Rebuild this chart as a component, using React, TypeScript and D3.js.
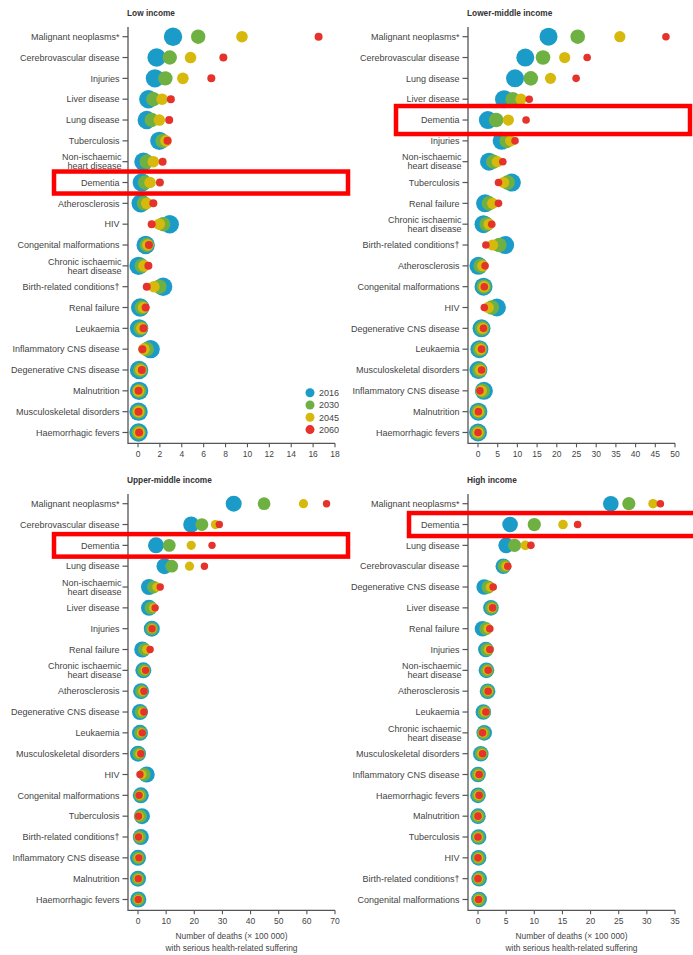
import React, { useRef, useEffect } from 'react';
import * as d3 from 'd3';

const YEARS = ['2016', '2030', '2045', '2060'];
const COLORS = ['#1b9cc8', '#6fb043', '#d6b90c', '#e5322a'];

// Low income
const LOW_CATS = ['Malignant neoplasms*', 'Cerebrovascular disease', 'Injuries', 'Liver disease', 'Lung disease', 'Tuberculosis', 'Non-ischaemic\nheart disease', 'Dementia', 'Atherosclerosis', 'HIV', 'Congenital malformations', 'Chronic ischaemic\nheart disease', 'Birth-related conditions†', 'Renal failure', 'Leukaemia', 'Inflammatory CNS disease', 'Degenerative CNS disease', 'Malnutrition', 'Musculoskeletal disorders', 'Haemorrhagic fevers'];
const LOW_2016 = [3.2, 1.7, 1.55, 0.95, 0.8, 1.95, 0.5, 0.35, 0.25, 2.9, 0.7, 0.05, 2.3, 0.2, 0.1, 1.15, 0.1, 0.1, 0.05, 0.05];
const LOW_2030 = [5.5, 2.9, 2.5, 1.4, 1.25, 2.25, 0.8, 0.65, 0.55, 2.3, 0.8, 0.35, 1.95, 0.35, 0.25, 0.8, 0.2, 0.1, 0.05, 0.05];
const LOW_2045 = [9.5, 4.8, 4.1, 2.2, 1.95, 2.55, 1.4, 1.1, 0.8, 1.95, 0.9, 0.55, 1.45, 0.5, 0.35, 0.55, 0.25, 0.05, 0.05, 0.1];
const LOW_2060 = [16.5, 7.8, 6.7, 3.0, 2.85, 2.7, 2.25, 2.0, 1.4, 1.25, 1.0, 0.95, 0.8, 0.7, 0.5, 0.4, 0.35, 0.05, 0.05, 0.1];
const LOW_TICKS = [0, 2, 4, 6, 8, 10, 12, 14, 16, 18];

// Lower-middle income
const LM_CATS = ['Malignant neoplasms*', 'Cerebrovascular disease', 'Lung disease', 'Liver disease', 'Dementia', 'Injuries', 'Non-ischaemic\nheart disease', 'Tuberculosis', 'Renal failure', 'Chronic ischaemic\nheart disease', 'Birth-related conditions†', 'Atherosclerosis', 'Congenital malformations', 'HIV', 'Degenerative CNS disease', 'Leukaemia', 'Musculoskeletal disorders', 'Inflammatory CNS disease', 'Malnutrition', 'Haemorrhagic fevers'];
const LM_2016 = [17.9, 12.0, 9.4, 6.6, 2.5, 6.0, 2.8, 8.6, 1.8, 1.4, 6.9, 0.1, 1.4, 4.8, 0.9, 0.35, 0.1, 1.5, 0.1, 0];
const LM_2030 = [25.3, 16.5, 13.4, 8.8, 4.6, 7.3, 3.9, 7.5, 2.8, 2.2, 5.4, 0.7, 1.5, 3.5, 1.05, 0.5, 0.4, 1.2, 0.1, 0];
const LM_2045 = [36.0, 22.0, 18.4, 10.9, 7.7, 8.3, 4.9, 6.5, 3.7, 2.8, 3.7, 1.2, 1.55, 2.6, 1.2, 0.7, 0.65, 0.85, 0.1, 0];
const LM_2060 = [47.7, 27.7, 24.9, 13.0, 12.2, 9.4, 6.3, 5.2, 5.2, 3.5, 2.0, 1.8, 1.6, 1.6, 1.4, 0.9, 0.9, 0.5, 0.1, 0];
const LM_TICKS = [0, 5, 10, 15, 20, 25, 30, 35, 40, 45, 50];

// Upper-middle income
const UM_CATS = ['Malignant neoplasms*', 'Cerebrovascular disease', 'Dementia', 'Lung disease', 'Non-ischaemic\nheart disease', 'Liver disease', 'Injuries', 'Renal failure', 'Chronic ischaemic\nheart disease', 'Atherosclerosis', 'Degenerative CNS disease', 'Leukaemia', 'Musculoskeletal disorders', 'HIV', 'Congenital malformations', 'Tuberculosis', 'Birth-related conditions†', 'Inflammatory CNS disease', 'Malnutrition', 'Haemorrhagic fevers'];
const UM_2016 = [34.0, 18.9, 6.4, 9.4, 3.9, 3.9, 4.9, 1.5, 1.9, 1.1, 0.7, 0.7, 0, 3.1, 1.0, 1.4, 1.0, 0, 0, 0.1];
const UM_2030 = [44.8, 22.7, 11.1, 12.0, 5.5, 4.6, 4.9, 2.3, 2.1, 1.3, 1.1, 0.9, 0.3, 2.2, 0.8, 0.9, 0.6, 0.1, 0, 0.1];
const UM_2045 = [58.8, 27.5, 18.9, 18.3, 6.7, 5.5, 5.0, 3.1, 2.5, 1.7, 1.6, 1.2, 0.6, 1.4, 0.6, 0.4, 0.3, 0.2, 0.05, 0.1];
const UM_2060 = [67.0, 28.9, 26.3, 23.6, 7.9, 6.1, 5.0, 4.3, 2.7, 2.1, 2.1, 1.5, 1.0, 0.7, 0.4, 0.2, 0.2, 0.3, 0.1, 0.1];
const UM_TICKS = [0, 10, 20, 30, 40, 50, 60, 70];

// High income
const HI_CATS = ['Malignant neoplasms*', 'Dementia', 'Lung disease', 'Cerebrovascular disease', 'Degenerative CNS disease', 'Liver disease', 'Renal failure', 'Injuries', 'Non-ischaemic\nheart disease', 'Atherosclerosis', 'Leukaemia', 'Chronic ischaemic\nheart disease', 'Musculoskeletal disorders', 'Inflammatory CNS disease', 'Haemorrhagic fevers', 'Malnutrition', 'Tuberculosis', 'HIV', 'Birth-related conditions†', 'Congenital malformations'];
const HI_2016 = [23.6, 5.7, 5.0, 4.5, 1.1, 2.3, 0.8, 1.4, 1.5, 1.7, 0.95, 1.1, 0.5, 0, 0, 0, 0.1, 0.1, 0.2, 0.2];
const HI_2030 = [26.8, 10.0, 6.5, 4.7, 1.8, 2.4, 1.4, 1.6, 1.6, 1.7, 1.1, 1.0, 0.6, 0.05, 0.05, 0, 0.05, 0.1, 0.15, 0.15];
const HI_2045 = [31.1, 15.1, 8.4, 5.0, 2.2, 2.5, 1.8, 1.9, 1.7, 1.8, 1.25, 0.9, 0.7, 0.1, 0.1, 0, 0, 0.05, 0.05, 0.1];
const HI_2060 = [32.4, 17.7, 9.4, 5.3, 2.7, 2.6, 2.1, 2.1, 1.8, 1.8, 1.4, 0.8, 0.8, 0.2, 0.2, 0, 0, 0, 0, 0.1];
const HI_TICKS = [0, 5, 10, 15, 20, 25, 30, 35];

const AXIS_TITLE = ['Number of deaths (× 100 000)', 'with serious health-related suffering'];

const PANELS = [
  { title: 'Low income', cats: LOW_CATS, series: [LOW_2016, LOW_2030, LOW_2045, LOW_2060], ticks: LOW_TICKS, ox: 0, oy: 0, radii: [9.2, 7.2, 5.8, 4], legend: true, axisTitle: false, hl: [54, 348, 22] },
  { title: 'Lower-middle income', cats: LM_CATS, series: [LM_2016, LM_2030, LM_2045, LM_2060], ticks: LM_TICKS, ox: 340, oy: 0, radii: [9, 7.3, 5.6, 3.8], legend: false, axisTitle: false, hl: [56, 350, 28] },
  { title: 'Upper-middle income', cats: UM_CATS, series: [UM_2016, UM_2030, UM_2045, UM_2060], ticks: UM_TICKS, ox: 0, oy: 467, radii: [8, 6.4, 4.6, 3.7], legend: false, axisTitle: true, hl: [54, 348, 22.5] },
  { title: 'High income', cats: HI_CATS, series: [HI_2016, HI_2030, HI_2045, HI_2060], ticks: HI_TICKS, ox: 340, oy: 467, radii: [7.8, 6.6, 4.8, 3.8], legend: false, axisTitle: true, hl: [69, 356, 23] },
];

const FONT = '"Liberation Sans", Arial, sans-serif';
const TEXT = '#444';
const AXIS = '#555';

const App = () => {
  const ref = useRef(null);

  useEffect(() => {
    const svg = d3.select(ref.current);
    svg.selectAll('*').remove();

    PANELS.forEach(p => {
      const g = svg.append('g').attr('transform', `translate(${p.ox},${p.oy})`);

      const x = d3.scaleLinear()
        .domain([0, p.ticks[p.ticks.length - 1]])
        .range([138, 335]);
      const y = d3.scalePoint()
        .domain(p.cats)
        .range([36.7, 432.5]);
      const axisX = 128;
      const axisY = 443.3;

      // title
      g.append('text')
        .attr('x', 127).attr('y', 16)
        .attr('font-family', FONT).attr('font-size', 8.3).attr('font-weight', 'bold')
        .attr('fill', '#333')
        .text(p.title);

      // axes lines
      g.append('path')
        .attr('d', `M${axisX},27V${axisY}H${x.range()[1]}`)
        .attr('fill', 'none').attr('stroke', AXIS).attr('stroke-width', 1.3);

      // y ticks + labels
      p.cats.forEach(c => {
        const yy = y(c);
        g.append('line')
          .attr('x1', axisX - 5.5).attr('x2', axisX).attr('y1', yy).attr('y2', yy)
          .attr('stroke', AXIS).attr('stroke-width', 1.2);
        const lines = c.split('\n');
        const t = g.append('text')
          .attr('text-anchor', 'end')
          .attr('font-family', FONT).attr('font-size', 9).attr('fill', TEXT);
        lines.forEach((ln, i) => {
          t.append('tspan')
            .attr('x', lines.length > 1 ? 121.5 : 119.5)
            .attr('y', yy + 3.2 + (lines.length > 1 ? (i - 0.5) * 9 : 0))
            .text(ln);
        });
      });

      // x ticks
      p.ticks.forEach(v => {
        g.append('line')
          .attr('x1', x(v)).attr('x2', x(v)).attr('y1', axisY).attr('y2', axisY + 4)
          .attr('stroke', AXIS).attr('stroke-width', 1.1);
        g.append('text')
          .attr('x', x(v)).attr('y', axisY + 13.5)
          .attr('text-anchor', 'middle')
          .attr('font-family', FONT).attr('font-size', 8.5).attr('fill', TEXT)
          .text(v);
      });

      if (p.axisTitle) {
        const cx = (axisX + x.range()[1]) / 2;
        AXIS_TITLE.forEach((s, i) => {
          g.append('text')
            .attr('x', cx).attr('y', axisY + 29 + i * 11.2)
            .attr('text-anchor', 'middle')
            .attr('font-family', FONT).attr('font-size', 8.4).attr('fill', TEXT)
            .text(s);
        });
      }

      // dots: 2016 at the bottom, 2060 on top
      p.series.forEach((vals, si) => {
        g.append('g')
          .selectAll('circle')
          .data(vals)
          .join('circle')
          .attr('cx', d => x(d))
          .attr('cy', (d, i) => y(p.cats[i]))
          .attr('r', p.radii[si])
          .attr('fill', COLORS[si]);
      });

      if (p.legend) {
        YEARS.forEach((yr, i) => {
          const ly = 392.7 + i * 12.3;
          g.append('circle').attr('cx', 310).attr('cy', ly).attr('r', 4.5).attr('fill', COLORS[i]);
          g.append('text')
            .attr('x', 319).attr('y', ly + 3.3)
            .attr('font-family', FONT).attr('font-size', 9).attr('fill', TEXT)
            .text(yr);
        });
      }

      // red highlight around the Dementia row
      const dy = y('Dementia');
      g.append('rect')
        .attr('x', p.hl[0]).attr('y', dy - p.hl[2] / 2)
        .attr('width', p.hl[1] - p.hl[0]).attr('height', p.hl[2])
        .attr('fill', 'none').attr('stroke', '#f00').attr('stroke-width', 4.5);
    });
  }, []);

  return (
    <svg ref={ref} width={693} height={955}
      style={{ position: 'absolute', left: 0, top: 0, background: '#fff' }} />
  );
};

export default App;
